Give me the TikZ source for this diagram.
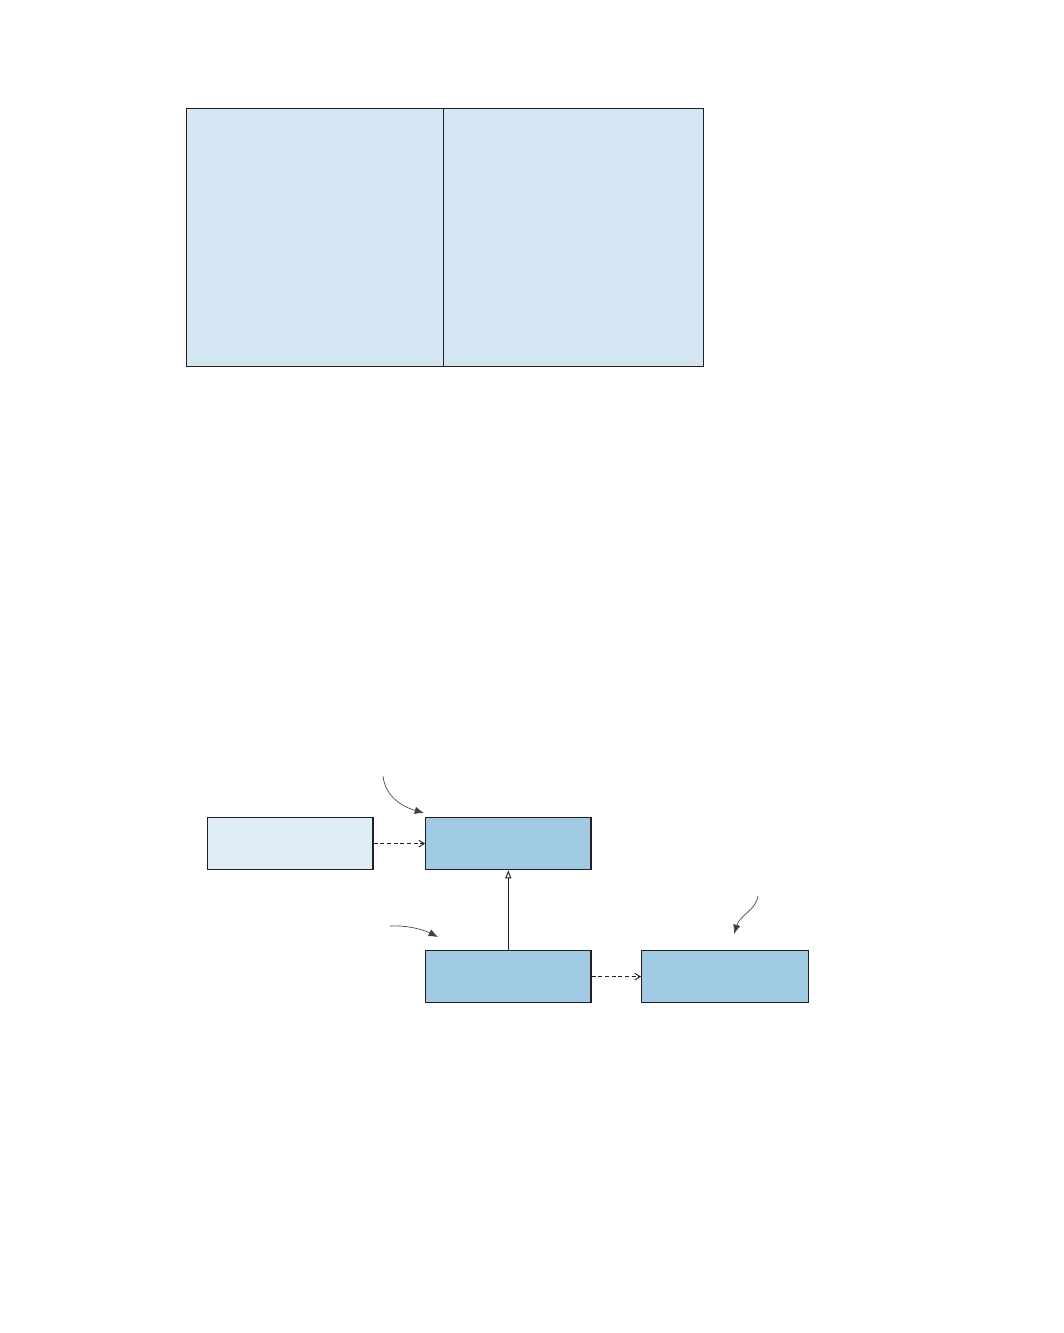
\documentclass[tikz,border=0pt]{standalone}
\usetikzlibrary{arrows.meta}
\definecolor{topfill}{HTML}{D3E6F1}
\definecolor{lightfill}{HTML}{DFEEF6}
\definecolor{darkfill}{HTML}{A1CBE4}
\definecolor{edge}{HTML}{231F20}
\tikzset{
  panel/.style={draw=edge,line width=0.95pt,fill=topfill},
  lightbox/.style={draw=edge,line width=0.95pt,fill=lightfill,minimum width=124pt,minimum height=39pt,inner sep=0pt,anchor=north west},
  darkbox/.style={draw=edge,line width=0.95pt,fill=darkfill,minimum width=124pt,minimum height=39pt,inner sep=0pt,anchor=north west},
  dep/.style={draw=edge,line width=0.7pt,dashed,dash pattern=on 3pt off 2pt,-{Straight Barb[length=4pt,width=5pt]}},
  inherit/.style={draw=edge,line width=0.7pt,-{Triangle[open,length=6pt,width=4.5pt]}},
  note/.style={draw=edge!85,line width=0.5pt,-{Latex[length=7pt,width=5.5pt]}}
}
\begin{document}
\begin{tikzpicture}[x=0.75pt,y=-0.75pt]
\useasboundingbox (0,0) rectangle (1063,1333);
% top panel
\node[panel,minimum width=387.75pt,minimum height=193.5pt,inner sep=0pt,anchor=north west] (panel) at (186,108) {};
\coordinate (divtop) at (443.5,108);
\coordinate (divbot) at (443.5,366);
\draw[edge,line width=1.1pt] (divtop) -- (divbot);
% boxes
\node[lightbox] (a) at (207,817) {};
\node[darkbox] (b) at (425,817) {};
\node[darkbox] (c) at (425,950) {};
\node[darkbox,minimum width=125pt] (d) at (641,950) {};
% connectors
\draw[dep] (a.east) -- (b.west);
\draw[inherit] (c.north) -- (b.south);
\draw[dep] (c.east) -- (d.west);
% annotation arrows
\coordinate (n1) at (383,776);
\coordinate (t1) at (424,813);
\draw[note] (n1) .. controls (385,795) and (400,806) .. (t1);
\coordinate (n2) at (390,926);
\coordinate (t2) at (438,937);
\draw[note] (n2) .. controls (405,925) and (422,929) .. (t2);
\coordinate (n3) at (758,896);
\coordinate (t3) at (734,934);
\draw[note] (n3) .. controls (756,910) and (740,915) .. (t3);
\end{tikzpicture}
\end{document}
